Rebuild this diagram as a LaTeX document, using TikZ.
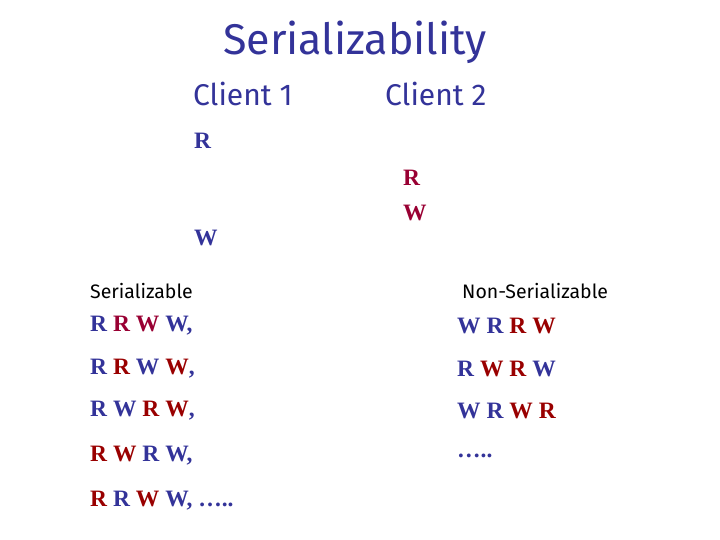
\documentclass[tikz,border=0pt]{standalone}
\usepackage{fontspec}
\setmainfont{Liberation Serif}
\newfontfamily\cfont{Fira Sans}
\definecolor{cb}{HTML}{333399}
\definecolor{cr}{HTML}{990000}
\definecolor{cm}{HTML}{990033}
\newcommand{\B}[1]{\textcolor{cb}{#1}}
\newcommand{\Rd}[1]{\textcolor{cr}{#1}}
\newcommand{\M}[1]{\textcolor{cm}{#1}}
\begin{document}
\begin{tikzpicture}[x=1pt,y=-1pt,
  every node/.style={inner sep=0pt,anchor=west},
  rw/.style={font=\fontsize{23.5}{26}\selectfont\bfseries},
  lab/.style={font=\cfont\fontsize{19.5}{22}\selectfont},
  cl/.style={font=\cfont\fontsize{30}{32}\selectfont,text=cb}]
\useasboundingbox (0,0) rectangle (720,540);
\node[anchor=center,font=\cfont\fontsize{43}{46}\selectfont,text=cb] (title) at (355,42) {Serializability};
\node[cl] (c1) at (193,94) {Client 1};
\node[cl] (c2) at (385,94) {Client 2};
\node[rw,text=cb] (r1) at (194,141) {R};
\node[rw,text=cb] (w1) at (194,238) {W};
\node[rw,text=cm] (r2) at (403,178) {R};
\node[rw,text=cm] (w2) at (403,213) {W};
\node[lab] (s) at (90,291) {Serializable};
\node[lab] (ns) at (462,291) {Non-Serializable};
\node[rw] (a1) at (90,326) {\B{R} \M{R} \M{W} \B{W,}};
\node[rw] (a2) at (90,369) {\B{R} \Rd{R} \B{W} \Rd{W}\B{,}};
\node[rw] (a3) at (90,411) {\B{R} \B{W} \Rd{R} \Rd{W}\B{,}};
\node[rw] (a4) at (90,456) {\Rd{R} \Rd{W} \B{R} \B{W,}};
\node[rw] (a5) at (90,501) {\Rd{R} \B{R} \Rd{W} \B{W, …..}};
\node[rw] (b1) at (457,326) {\B{W} \B{R} \Rd{R} \Rd{W}};
\node[rw] (b2) at (457,369) {\B{R} \Rd{W} \Rd{R} \B{W}};
\node[rw] (b3) at (457,411) {\B{W} \B{R} \Rd{W} \Rd{R}};
\node[rw] (b4) at (457,456) {\B{…..}};
\end{tikzpicture}
\end{document}
